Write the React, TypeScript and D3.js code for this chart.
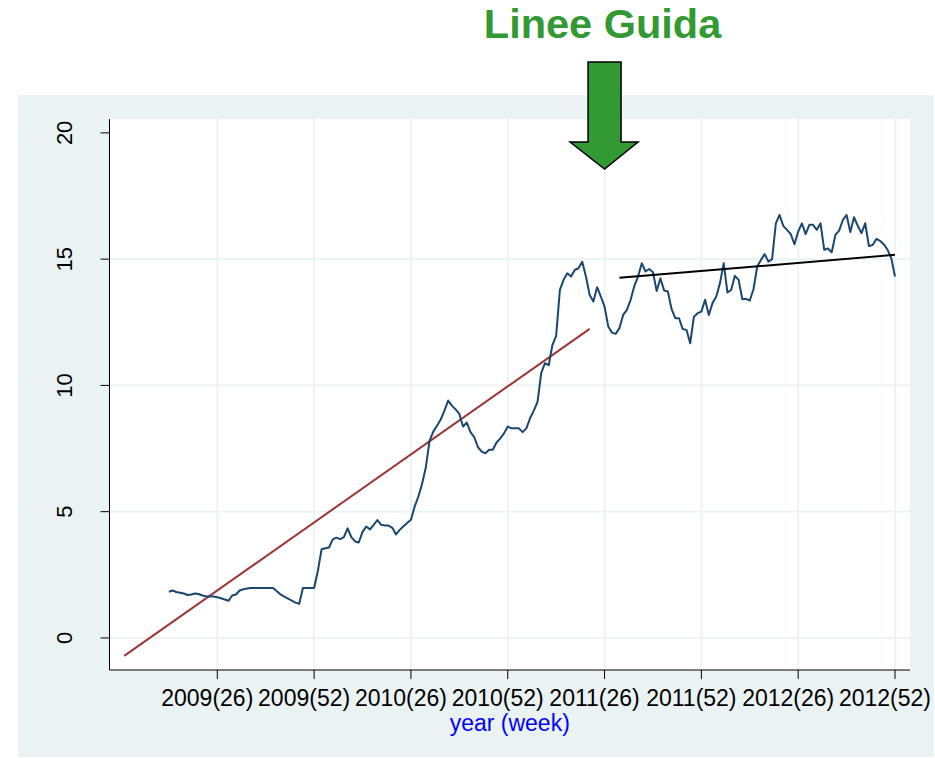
import React from "react";
import * as d3 from "d3";

const width = 935;
const height = 758;

// week index: 2009 week w -> w, 2010 week w -> 52 + w, 2011 -> 104 + w, 2012 -> 156 + w
const firstWeek = 13;
const values2009 = [
  1.83, 1.88, 1.82, 1.79, 1.76, 1.7, 1.72, 1.76, 1.74, 1.68,
  1.65, 1.64, 1.64, 1.61, 1.57, 1.52, 1.47, 1.68, 1.72, 1.88,
  1.93, 1.96, 1.98, 1.98, 1.98, 1.98, 1.98, 1.98, 1.98, 1.85,
  1.72, 1.64, 1.56, 1.48, 1.4, 1.35, 1.98, 1.98, 1.98, 1.98,
];
const values2010 = [
  2.65, 3.51, 3.55, 3.58, 3.9, 3.97, 3.91, 3.99, 4.34, 3.99,
  3.82, 3.78, 4.2, 4.41, 4.3, 4.48, 4.67, 4.48, 4.45, 4.45,
  4.36, 4.1, 4.28, 4.42, 4.55, 4.68, 5.2, 5.6, 6.1, 6.75,
  7.8, 8.17, 8.4, 8.65, 9.0, 9.4, 9.2, 9.05, 8.87, 8.37,
  8.53, 8.15, 7.95, 7.55, 7.38, 7.31, 7.45, 7.45, 7.74, 7.9,
  8.1, 8.37,
];
const values2011 = [
  8.3, 8.3, 8.3, 8.15, 8.3, 8.7, 9.0, 9.35, 10.5, 10.88,
  10.8, 11.6, 11.96, 13.78, 14.18, 14.44, 14.31, 14.57, 14.64, 14.9,
  14.31, 13.58, 13.32, 13.89, 13.52, 13.12, 12.33, 12.09, 12.04, 12.27,
  12.79, 12.99, 13.39, 13.94, 14.31, 14.84, 14.51, 14.61, 14.48, 13.74,
  14.24, 13.76, 13.72, 13.02, 12.66, 12.66, 12.23, 12.2, 11.67, 12.72,
  12.86, 12.92,
];
const values2012 = [
  13.39, 12.79, 13.26, 13.52, 14.05, 14.84, 13.68, 13.78, 14.34, 14.18,
  13.41, 13.43, 13.36, 13.81, 14.71, 14.97, 15.2, 14.9, 15.0, 16.42,
  16.75, 16.32, 16.16, 15.99, 15.59, 16.09, 16.42, 15.99, 16.36, 16.36,
  16.16, 16.42, 15.37, 15.42, 15.27, 15.96, 16.13, 16.55, 16.75, 16.07,
  16.66, 16.32, 16.03, 16.42, 15.52, 15.56, 15.8, 15.72, 15.59, 15.37,
  15.04, 14.31,
];

// linear fits before / after the guidelines
const fitBeforeWeeks = [1, 126];
const fitBeforeValues = [-0.71, 12.24];
const fitAfterWeeks = [134, 208];
const fitAfterValues = [14.26, 15.17];

const xTickWeeks = [26, 52, 78, 104, 130, 156, 182, 208];
const xTickLabels = [
  "2009(26)", "2009(52)", "2010(26)", "2010(52)",
  "2011(26)", "2011(52)", "2012(26)", "2012(52)",
];
const yTicks = [0, 5, 10, 15, 20];
const guidelineWeek = 130;

const bg = "#eaf2f3";
const font = "'Liberation Sans', Arial, sans-serif";

export default function App() {
  const plot = { left: 109.5, right: 910, top: 119, bottom: 670 };

  const x = d3.scaleLinear().domain([-2.95, 212.03]).range([plot.left, plot.right]);
  const y = d3.scaleLinear().domain([-1.27, 20.55]).range([plot.bottom, plot.top]);

  const series = [...values2009, ...values2010, ...values2011, ...values2012].map((v, i) => ({
    week: firstWeek + i,
    value: v,
  }));

  const line = d3
    .line<{ week: number; value: number }>()
    .x((d) => x(d.week))
    .y((d) => y(d.value));

  const fitBefore = fitBeforeWeeks.map((w, i) => ({ week: w, value: fitBeforeValues[i] }));
  const fitAfter = fitAfterWeeks.map((w, i) => ({ week: w, value: fitAfterValues[i] }));

  // arrow pointing at the guideline date
  const ax = x(guidelineWeek);
  const arrow = [
    [ax - 16.5, 62],
    [ax + 16.5, 62],
    [ax + 16.5, 142],
    [ax + 33.5, 142],
    [ax, 169],
    [ax - 34.5, 142],
    [ax - 16.5, 142],
  ];

  return (
    <svg
      width={width}
      height={height}
      style={{ position: "absolute", left: 0, top: 0, display: "block" }}
      fontFamily={font}
    >
      <rect width={width} height={height} fill="#fff" />
      <rect x={18} y={95} width={916} height={662} fill={bg} />
      <rect
        x={plot.left}
        y={plot.top}
        width={plot.right - plot.left}
        height={plot.bottom - plot.top}
        fill="#fff"
      />

      {/* grid */}
      {yTicks
        .filter((t) => t < 20)
        .map((t) => (
          <line key={"gy" + t} x1={plot.left} x2={plot.right} y1={y(t)} y2={y(t)} stroke={bg} strokeWidth={1.8} />
        ))}
      {xTickWeeks.map((w) => (
        <line key={"gx" + w} x1={x(w)} x2={x(w)} y1={plot.top} y2={plot.bottom} stroke={bg} strokeWidth={1.8} />
      ))}

      {/* fits and series */}
      <path d={line(fitBefore) || ""} fill="none" stroke="#9c3636" strokeWidth={2} />
      <path d={line(series) || ""} fill="none" stroke="#1a476f" strokeWidth={2} strokeLinejoin="round" />
      <path d={line(fitAfter) || ""} fill="none" stroke="#000" strokeWidth={2} />

      {/* axes */}
      <line x1={plot.left} x2={plot.left} y1={plot.top} y2={plot.bottom} stroke="#000" strokeWidth={1} />
      <line x1={plot.left} x2={plot.right} y1={plot.bottom} y2={plot.bottom} stroke="#000" strokeWidth={1} />
      {yTicks.map((t) => (
        <g key={"yt" + t}>
          <line x1={plot.left - 9} x2={plot.left} y1={y(t)} y2={y(t)} stroke="#000" />
          <text
            transform={`translate(72,${y(t)}) rotate(-90)`}
            textAnchor="middle"
            fontSize={22}
            fill="#000"
          >
            {t}
          </text>
        </g>
      ))}
      {xTickWeeks.map((w, i) => (
        <g key={"xt" + w}>
          <line x1={x(w)} x2={x(w)} y1={plot.bottom} y2={plot.bottom + 9} stroke="#000" />
          <text x={x(w) - 10} y={706} textAnchor="middle" fontSize={23} fill="#000">
            {xTickLabels[i]}
          </text>
        </g>
      ))}
      <text x={(plot.left + plot.right) / 2} y={730.5} textAnchor="middle" fontSize={23} fill="#0000ff">
        year (week)
      </text>

      {/* annotation */}
      <text x={ax - 2} y={38} textAnchor="middle" fontSize={41.5} fontWeight="bold" fill="#339933">
        Linee Guida
      </text>
      <polygon
        points={arrow.map((p) => p.join(",")).join(" ")}
        fill="#339933"
        stroke="#000"
        strokeWidth={1.5}
        strokeLinejoin="miter"
      />
    </svg>
  );
}
